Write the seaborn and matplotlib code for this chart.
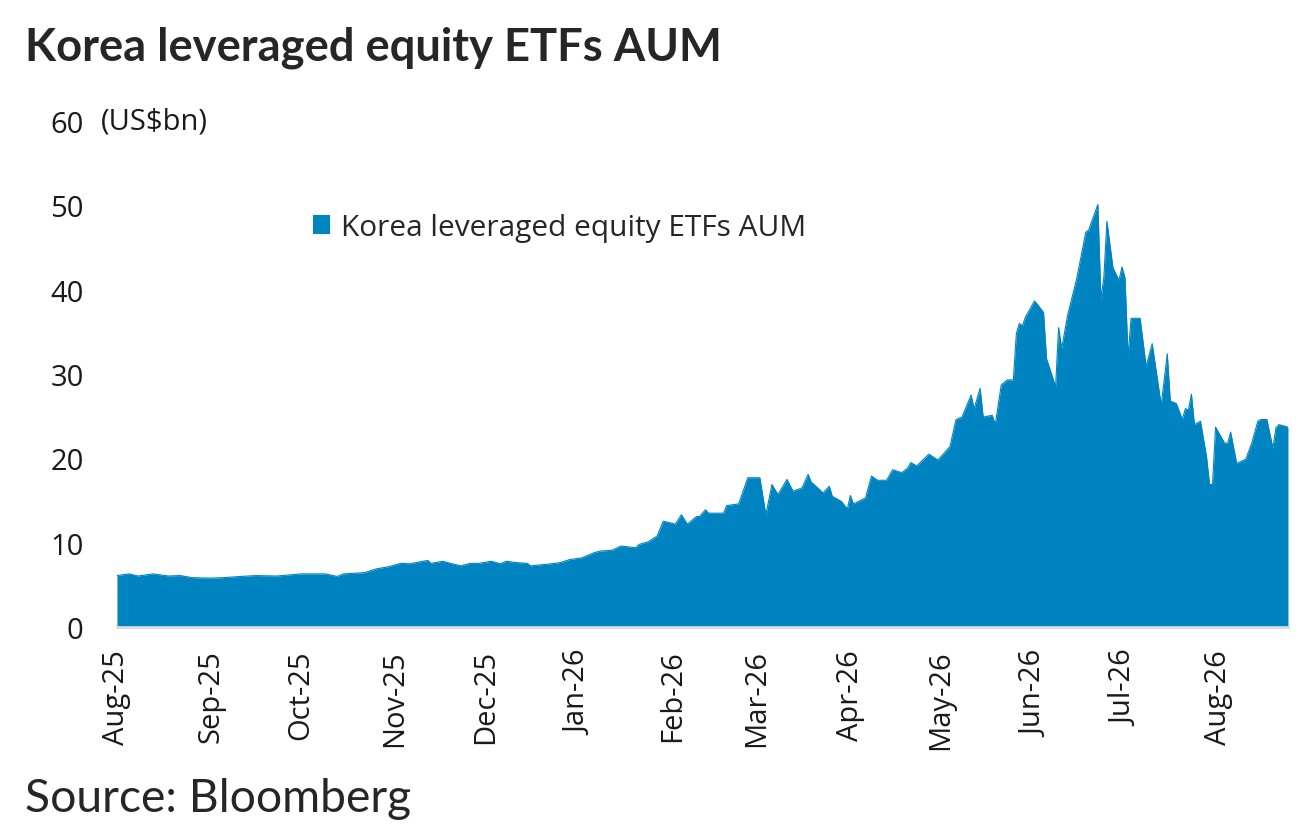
import pandas as pd
import matplotlib.pyplot as plt
import matplotlib.dates as mdates
from matplotlib.patches import Patch
import seaborn as sns

# ====== data (US$bn) ======
dates = [
    "2025-08-01", "2025-08-05", "2025-08-08", "2025-08-13", "2025-08-18", "2025-08-22",
    "2025-08-26", "2025-09-01", "2025-09-05", "2025-09-11", "2025-09-16", "2025-09-23",
    "2025-10-01", "2025-10-09", "2025-10-13", "2025-10-15", "2025-10-22", "2025-10-26",
    "2025-10-30", "2025-11-03", "2025-11-06", "2025-11-12", "2025-11-13", "2025-11-17",
    "2025-11-20", "2025-11-23", "2025-11-26", "2025-11-29", "2025-12-03", "2025-12-06",
    "2025-12-08", "2025-12-11", "2025-12-15", "2025-12-16", "2025-12-20", "2025-12-23",
    "2025-12-26", "2025-12-29",
    "2026-01-02", "2026-01-06", "2026-01-08", "2026-01-12", "2026-01-15", "2026-01-20",
    "2026-01-21", "2026-01-24", "2026-01-27", "2026-01-29", "2026-02-02", "2026-02-04",
    "2026-02-06", "2026-02-09", "2026-02-10", "2026-02-12", "2026-02-13", "2026-02-18",
    "2026-02-19", "2026-02-23", "2026-02-26", "2026-03-02", "2026-03-04", "2026-03-06",
    "2026-03-08", "2026-03-11", "2026-03-13", "2026-03-16", "2026-03-18", "2026-03-19",
    "2026-03-23", "2026-03-25", "2026-03-26", "2026-03-29", "2026-03-31", "2026-04-01",
    "2026-04-02", "2026-04-06", "2026-04-08", "2026-04-10",
    "2026-04-13", "2026-04-15", "2026-04-18", "2026-04-20", "2026-04-21", "2026-04-23",
    "2026-04-27", "2026-04-30", "2026-05-04", "2026-05-06", "2026-05-08", "2026-05-11",
    "2026-05-12", "2026-05-14", "2026-05-15", "2026-05-18", "2026-05-19", "2026-05-21",
    "2026-05-23", "2026-05-25", "2026-05-26", "2026-05-27", "2026-05-28", "2026-05-29",
    "2026-06-01", "2026-06-02", "2026-06-04", "2026-06-05", "2026-06-08", "2026-06-09",
    "2026-06-10", "2026-06-12", "2026-06-15", "2026-06-18", "2026-06-19", "2026-06-22",
    "2026-06-23", "2026-06-24", "2026-06-25", "2026-06-27", "2026-06-29", "2026-06-30",
    "2026-07-01", "2026-07-02", "2026-07-03", "2026-07-06", "2026-07-08", "2026-07-10",
    "2026-07-13", "2026-07-15", "2026-07-16", "2026-07-18", "2026-07-20", "2026-07-21",
    "2026-07-22", "2026-07-23", "2026-07-24", "2026-07-26", "2026-07-28", "2026-07-29",
    "2026-07-30", "2026-07-31", "2026-08-03", "2026-08-04", "2026-08-05", "2026-08-07",
    "2026-08-10", "2026-08-12", "2026-08-14", "2026-08-15", "2026-08-17", "2026-08-19",
    "2026-08-20", "2026-08-21", "2026-08-24",
]
aum = [
    6.1, 6.3, 6.05, 6.3, 6.05, 6.1,
    5.85, 5.8, 5.85, 6.0, 6.1, 6.05,
    6.3, 6.3, 6.0, 6.3, 6.45, 6.9,
    7.15, 7.55, 7.5, 7.9, 7.55, 7.8,
    7.5, 7.25, 7.55, 7.55, 7.8, 7.5,
    7.8, 7.65, 7.55, 7.25, 7.4, 7.5,
    7.65, 8.0,
    8.2, 8.8, 9.0, 9.1, 9.6, 9.4,
    9.8, 10.1, 10.8, 12.55, 12.2, 13.3,
    12.2, 13.1, 13.1, 13.9, 13.5, 13.5,
    14.4, 14.6, 17.7, 17.7, 13.3, 16.9,
    15.7, 17.5, 16.1, 16.5, 18.1, 17.2,
    15.9, 16.7, 15.5, 14.9, 14.0, 15.6,
    14.6, 15.3, 17.9, 17.4,
    17.4, 18.65, 18.3, 18.85, 19.5, 19.1,
    20.5, 19.8, 21.4, 24.6, 24.9, 27.5,
    25.9, 28.3, 24.9, 25.1, 24.0, 28.7,
    29.3, 29.3, 34.8, 36.0, 35.7, 36.75,
    38.65, 38.25, 37.3, 31.8, 28.5, 35.5,
    33.0, 37.0, 41.3, 46.8, 47.1, 50.1,
    38.9, 41.5, 48.1, 42.6, 41.1, 42.7,
    41.4, 32.0, 36.6, 36.6, 30.9, 33.6,
    26.3, 32.4, 26.8, 26.5, 24.6, 25.9,
    25.7, 27.6, 24.0, 24.4, 20.2, 16.9,
    16.9, 23.7, 21.8, 21.8, 23.1, 19.4,
    19.9, 21.8, 24.4, 24.6, 24.6, 21.2,
    23.6, 24.0, 23.7,
]
yticks = [0, 10, 20, 30, 40, 50, 60]

df = pd.DataFrame({"date": pd.to_datetime(dates), "aum": aum})

title = "Korea leveraged equity ETFs AUM"
series_name = "Korea leveraged equity ETFs AUM"
blue = "#0084c1"

# ====== plot ======
sns.set_theme(style="white")
plt.rcParams["font.family"] = ["Open Sans", "DejaVu Sans"]

fig = plt.figure(figsize=(13.01, 8.28), dpi=100)
ax = fig.add_axes([0.0899, 0.2415, 0.9001, 0.6112])

sns.lineplot(data=df, x="date", y="aum", ax=ax, color=blue, linewidth=0.8)
ax.fill_between(df["date"], 0, df["aum"], color=blue, linewidth=0)

ax.set_xlim(pd.Timestamp("2025-08-01"), df["date"].iloc[-1])
ax.set_ylim(0, 60)
ax.set_yticks(yticks)
ax.xaxis.set_major_locator(mdates.MonthLocator())
ax.xaxis.set_major_formatter(mdates.DateFormatter("%b-%y"))
ax.set_xlabel("")
ax.set_ylabel("")

ax.tick_params(axis="x", labelrotation=90, length=0, pad=16, labelsize=21, colors="#1a1a1a")
ax.tick_params(axis="y", length=0, pad=24, labelsize=21, colors="#1a1a1a")
for lbl in ax.get_xticklabels():
    lbl.set_va("top")

for side in ["left", "right", "top"]:
    ax.spines[side].set_visible(False)
ax.spines["bottom"].set_color("#d9d9d9")
ax.spines["bottom"].set_linewidth(2)

ax.text(-0.014, 1.0, "(US$bn)", transform=ax.transAxes, fontsize=21,
        color="#1a1a1a", va="center", ha="left")

ax.legend(handles=[Patch(facecolor=blue, edgecolor="none", label=series_name)],
          loc="center left", bbox_to_anchor=(0.167, 0.79), frameon=False,
          fontsize=21.5, handlelength=0.6, handleheight=0.6, handletextpad=0.35,
          borderaxespad=0, borderpad=0)

fig.text(0.019, 0.942, title, fontsize=32.7, fontweight="bold",
         family=["Lato", "DejaVu Sans"], va="center", ha="left")
fig.text(0.019, 0.035, "Source: Bloomberg", fontsize=33.3,
         family=["Lato", "DejaVu Sans"], va="center", ha="left")

fig.savefig("out.png", dpi=100)
